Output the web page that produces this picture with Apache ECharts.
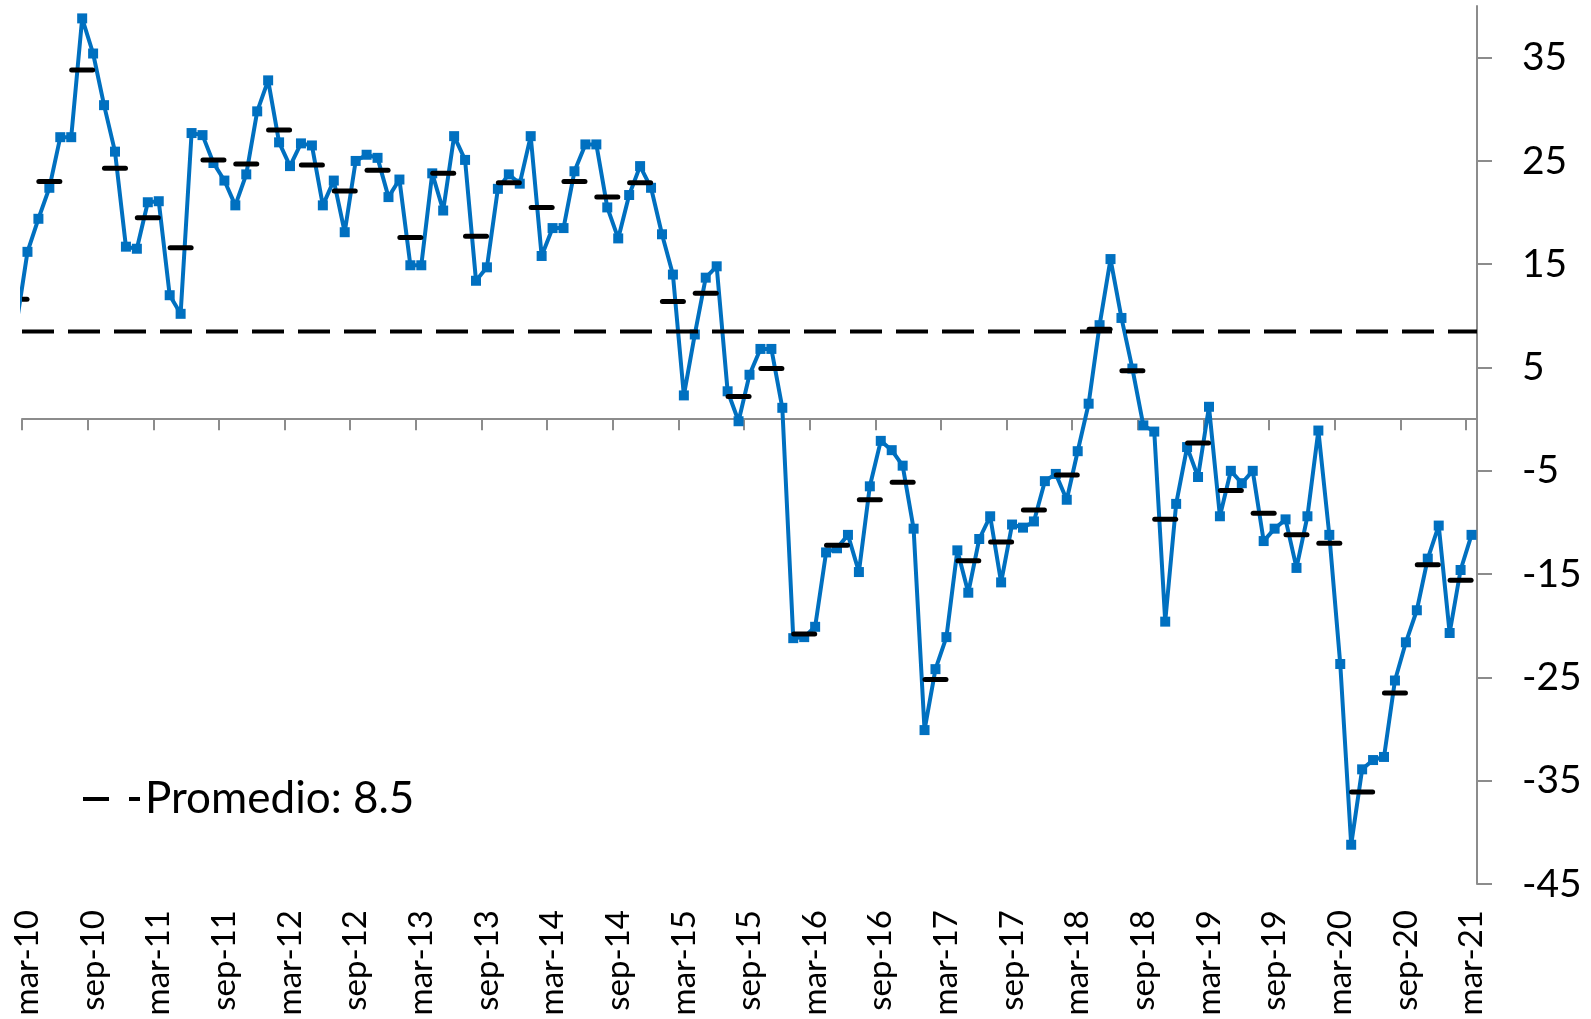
<!DOCTYPE html>
<html>
<head>
<meta charset="utf-8">
<script src="https://cdn.jsdelivr.net/npm/echarts@6/dist/echarts.min.js"></script>
<style>
html,body{margin:0;padding:0;background:#fff;}
#chart{width:1591px;height:1019px;}
</style>
</head>
<body>
<div id="chart"></div>
<script>
// ---- data ----
const mesesAbrev = ['ene','feb','mar','abr','may','jun','jul','ago','sep','oct','nov','dic'];
const primerMes = { mes: 2, anio: 2010 };   // mar-10
const numMeses = 133;                        // mar-10 .. mar-21

// monthly values, mar-10 .. mar-21
const indice = [
  16.2, 19.4, 22.4, 27.3, 27.3, 38.8, 35.4, 30.4, 25.9, 16.7,
  16.5, 21.0, 21.1, 12.0, 10.2, 27.7, 27.5, 24.8, 23.1, 20.7, 23.7, 29.8,
  32.8, 26.8, 24.5, 26.7, 26.5, 20.7, 23.1, 18.1, 25.0, 25.6, 25.3, 21.5,
  23.2, 14.9, 14.9, 23.8, 20.2, 27.4, 25.1, 13.4, 14.7, 22.3, 23.7, 22.8,
  27.4, 15.8, 18.5, 18.5, 24.0, 26.6, 26.6, 20.5, 17.5, 21.7, 24.5, 22.4,
  17.9, 14.0, 2.3, 8.2, 13.7, 14.8, 2.7, -0.2, 4.3, 6.8, 6.8, 1.1,
  -21.2, -21.1, -20.1, -12.9, -12.5, -11.2, -14.8, -6.5, -2.1, -3.0, -4.5, -10.6,
  -30.1, -24.2, -21.1, -12.7, -16.8, -11.6, -9.4, -15.8, -10.2, -10.5, -9.9, -6.0,
  -5.3, -7.8, -3.1, 1.5, 9.1, 15.5, 9.8, 4.9, -0.6, -1.2, -19.6, -8.2,
  -2.7, -5.6, 1.2, -9.4, -5.0, -6.2, -5.0, -11.8, -10.6, -9.7, -14.4, -9.4,
  -1.1, -11.2, -23.7, -41.2, -33.9, -33.0, -32.7, -25.3, -21.6, -18.5, -13.5, -10.3,
  -20.7, -14.6, -11.2
];
// value of feb-10 (only its segment entering from the left edge is visible)
const indiceFeb10 = 9.2;

// quarterly averages, Q1-10 .. Q1-21 (drawn at the middle month of each quarter)
const promedioTrimestral = [
  11.6, 23.0, 33.8, 24.3,
  19.5, 16.6, 25.1, 24.7,
  28.0, 24.6, 22.1, 24.1,
  17.6, 23.8, 17.7, 22.9,
  20.5, 23.0, 21.5, 22.9,
  11.4, 12.2, 2.2, 4.9,
  -20.8, -12.2, -7.8, -6.1,
  -25.2, -13.7, -11.9, -8.8,
  -5.4, 8.7, 4.7, -9.7,
  -2.3, -6.9, -9.1, -11.2,
  -12.0, -36.1, -26.5, -14.1,
  -15.6
];

const promedio = 8.5;
const promedioNombre = 'Promedio: 8.5';
const yTicks = [-45, -35, -25, -15, -5, 5, 15, 25, 35];

// ---- build ----
const categorias = [];
for (let i = 0; i < numMeses; i++) {
  const m = (primerMes.mes + i) % 12;
  const y = primerMes.anio + Math.floor((primerMes.mes + i) / 12);
  categorias.push(mesesAbrev[m] + '-' + String(y % 100).padStart(2, '0'));
}
const serieMensual = [[-1, indiceFeb10]].concat(indice.map((v, i) => [i, v]));
// Q1-10 middle month is feb-10 -> index -1
const serieTrimestral = promedioTrimestral.map((v, q) => [-1 + 3 * q, v]);
const seriePromedio = [[-0.5, promedio], [numMeses - 0.5, promedio]];

const FONT = 'Lato, "Open Sans", sans-serif';
const GRAY = '#8c8c8c';

const chart = echarts.init(document.getElementById('chart'), null, { renderer: 'canvas' });
chart.setOption({
  animation: false,
  backgroundColor: '#ffffff',
  grid: { left: 22, top: 6, width: 1455, height: 878, containLabel: false, outerBoundsMode: 'none' },
  legend: {
    data: [{ name: promedioNombre, icon: 'path://M0,0H26V4H0Z M46,0H57V4H46Z' }],
    left: 83, top: 777, padding: 0,
    itemWidth: 57, itemHeight: 4,
    itemStyle: { color: '#000', borderWidth: 0 },
    textStyle: { fontFamily: FONT, fontSize: 44, color: '#000' },
    selectedMode: false
  },
  xAxis: [
    { // labels at bottom
      type: 'category', data: categorias, position: 'bottom', boundaryGap: true,
      axisLine: { show: false, onZero: false },
      axisTick: { show: false },
      axisLabel: { interval: 5, rotate: 90, margin: 26, fontFamily: FONT, fontSize: 33, color: '#000' },
      splitLine: { show: false }
    },
    { // axis line at zero with ticks
      type: 'category', data: categorias, position: 'bottom', boundaryGap: true,
      axisLine: { show: true, onZero: true, onZeroAxisIndex: 0, lineStyle: { color: GRAY, width: 2 } },
      axisTick: { show: true, interval: 5, length: 11, lineStyle: { color: GRAY, width: 2 } },
      axisLabel: { show: false },
      splitLine: { show: false }
    },
    { // numeric month index for the data
      type: 'value', min: -0.5, max: numMeses - 0.5, show: false,
      axisLine: { onZero: false }, splitLine: { show: false }
    }
  ],
  yAxis: {
    type: 'value', position: 'right', min: -45, max: 40, interval: 10,
    axisLine: { show: true, onZero: false, lineStyle: { color: GRAY, width: 2 } },
    axisTick: { show: true, length: 15, customValues: yTicks, lineStyle: { color: GRAY, width: 2 } },
    axisLabel: { customValues: yTicks, margin: 45, fontFamily: FONT, fontSize: 39, color: '#000' },
    splitLine: { show: false }
  },
  series: [
    {
      type: 'line', xAxisIndex: 2, data: serieMensual, clip: true,
      symbol: 'rect', symbolSize: 10, showAllSymbol: true,
      lineStyle: { color: '#0070C0', width: 4 },
      itemStyle: { color: '#0070C0' },
      z: 2
    },
    {
      name: promedioNombre, type: 'line', xAxisIndex: 2, data: seriePromedio,
      symbol: 'none', clip: true,
      lineStyle: { color: '#000', width: 4, type: [32, 14] },
      itemStyle: { color: '#000' },
      z: 3
    },
    {
      type: 'custom', xAxisIndex: 2, data: serieTrimestral, clip: true,
      renderItem: function (params, api) {
        const p = api.coord([api.value(0), api.value(1)]);
        return {
          type: 'line',
          shape: { x1: p[0] - 10.5, y1: p[1], x2: p[0] + 10.5, y2: p[1] },
          style: { stroke: '#000', lineWidth: 5, lineCap: 'round' }
        };
      },
      z: 4
    }
  ]
});
</script>
</body>
</html>
